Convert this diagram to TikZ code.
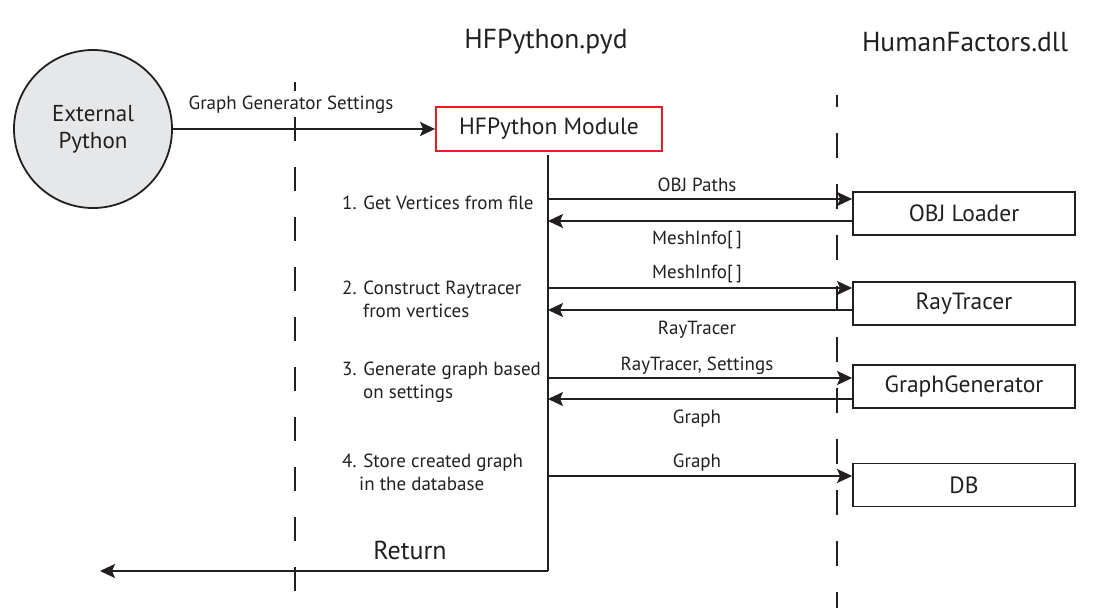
\documentclass[tikz,border=0pt]{standalone}
\usepackage{fontspec}
\setmainfont{PT Sans}
\usetikzlibrary{arrows.meta}
\definecolor{ink}{HTML}{231F20}
\definecolor{hfred}{HTML}{ED1C24}
\definecolor{circfill}{HTML}{E6E7E8}
\begin{document}
\begin{tikzpicture}[x=1pt,y=-1pt,
  small/.style={font=\fontsize{19}{23}\selectfont, inner sep=0pt, text=ink},
  mid/.style={font=\fontsize{23.5}{27}\selectfont, inner sep=0pt, text=ink},
  bigtext/.style={font=\fontsize{26}{30}\selectfont, inner sep=0pt, text=ink},
  titletext/.style={font=\fontsize{27.5}{32}\selectfont, inner sep=0pt, text=ink},
  compbox/.style={draw=ink, line width=1.8pt, minimum width=222pt, minimum height=43pt, inner sep=0pt, font=\fontsize{23.5}{27}\selectfont, text=ink},
  msg/.style={draw=ink, line width=1.8pt, -{Stealth[length=15pt,width=14pt,inset=3pt]}},
  lifeline/.style={draw=ink, line width=1.5pt},
  sep/.style={draw=ink, line width=1.8pt},
]
\useasboundingbox (0,0) rectangle (1120,608);

% titles
\node[titletext] (t1) at (546,42) {HFPython.pyd};
\node[titletext] (t2) at (965,42) {HumanFactors.dll};

% separators
\coordinate (d1top) at (295,82);
\coordinate (d1bot) at (295,608);
\draw[sep, dash pattern=on 24pt off 26pt, dash phase=15pt] (d1top) -- (d1bot);
\coordinate (d2top) at (837,95);
\coordinate (d2bot) at (837,608);
\draw[sep, dash pattern=on 25pt off 26pt, dash phase=13pt] (d2top) -- (d2bot);

% external python
\node[circle, draw=ink, fill=circfill, line width=1.8pt, minimum size=158pt, inner sep=0pt, align=center, font=\fontsize{23}{27}\selectfont, text=ink] (ext) at (93,129) {External\\Python};

% module
\node[draw=hfred, line width=1.8pt, minimum width=226pt, minimum height=44pt, mid] (hfm) at (549,129) {HFPython Module};
\draw[msg] (ext) -- (hfm);
\node[small] (gs) at (291,105) {Graph Generator Settings};

% components
\node[compbox] (obj) at (964,213.5) {OBJ Loader};
\node[compbox] (ray) at (964,303.5) {RayTracer};
\node[compbox] (gen) at (964,386.5) {GraphGenerator};
\node[compbox] (db) at (964,485) {DB};

% lifeline
\coordinate (ltop) at (548,155);
\coordinate (lbot) at (548,571);
\draw[lifeline] (ltop) -- (lbot);
\coordinate (retend) at (100,571);
\draw[msg] (lbot) -- (retend);
\node[bigtext] (ret) at (410,550) {Return};

% step 1
\coordinate (m1) at (548,199);
\coordinate (r1) at (548,221);
\draw[msg] (m1) -- (m1 -| obj.west);
\draw[msg] (r1 -| obj.west) -- (r1);
\node[small] (m1l) at (697,185) {OBJ Paths};
\node[small] (r1l) at (697,240) {MeshInfo[\,]};
\node[small, anchor=west] (s1) at (342,203) {1. Get Vertices from file};

% step 2
\coordinate (m2) at (548,288);
\coordinate (r2) at (548,310);
\draw[msg] (m2) -- (m2 -| ray.west);
\draw[msg] (r2 -| ray.west) -- (r2);
\node[small] (m2l) at (697,274) {MeshInfo[\,]};
\node[small] (r2l) at (697,330) {RayTracer};
\node[small, anchor=west, align=left] (s2) at (342,299.5) {2. Construct Raytracer\\\hspace*{21pt}from vertices};

% step 3
\coordinate (m3) at (548,378);
\coordinate (r3) at (548,399);
\draw[msg] (m3) -- (m3 -| gen.west);
\draw[msg] (r3 -| gen.west) -- (r3);
\node[small] (m3l) at (697,366) {RayTracer, Settings};
\node[small] (r3l) at (697,419) {Graph};
\node[small, anchor=west, align=left] (s3) at (342,382) {3. Generate graph based\\\hspace*{21pt}on settings};

% step 4
\coordinate (m4) at (548,476);
\draw[msg] (m4) -- (m4 -| db.west);
\node[small] (m4l) at (697,463) {Graph};
\node[small, anchor=west, align=left] (s4) at (342,472) {4. Store created graph\\\hspace*{17pt}in the database};
\end{tikzpicture}
\end{document}
